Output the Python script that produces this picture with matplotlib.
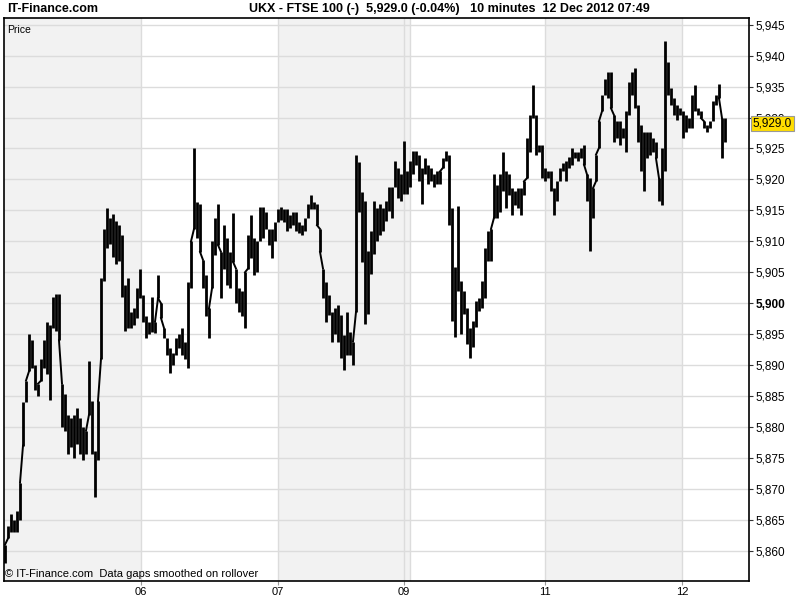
import matplotlib
matplotlib.use('Agg')
import matplotlib.pyplot as plt
from matplotlib.ticker import FixedLocator, FuncFormatter

# 10-minute bars, UKX (FTSE 100), 05-12 Dec 2012 -- high / low per bar group
high = [
    5861.0, 5864.0, 5866.0, 5865.0, 5866.5, 5871.0, 5884.0, 5887.5, 5895.0, 5894.0,
    5890.0, 5887.0, 5891.0, 5894.0, 5897.0, 5896.5, 5901.0, 5901.5, 5901.5, 5887.0,
    5885.3, 5882.0, 5881.5, 5882.0, 5883.0, 5881.5, 5880.0, 5879.4, 5890.7, 5884.2,
    5876.2, 5884.2, 5904.0, 5912.0, 5915.4, 5913.8, 5914.4, 5913.3, 5912.7, 5911.0,
    5903.0,
    5904.0, 5898.6, 5899.2, 5902.4, 5905.6, 5901.3, 5898.0, 5897.0, 5901.0, 5897.0,
    5904.6, 5900.0, 5896.0, 5894.4, 5892.7, 5892.0, 5894.4, 5895.0, 5896.0, 5893.8,
    5903.5, 5910.0, 5925.0, 5916.4, 5916.0, 5907.0, 5904.6, 5899.2, 5910.0, 5913.7,
    5916.0, 5908.3, 5912.6, 5910.5, 5908.3, 5914.5, 5905.6, 5902.4, 5901.9,
    5905.0, 5911.0, 5914.2, 5910.5, 5910.0, 5915.6, 5915.6, 5914.8, 5912.0, 5912.0,
    5913.2, 5915.3, 5915.6, 5915.3, 5915.3, 5914.2, 5914.8, 5914.8, 5913.2, 5912.6,
    5913.7, 5916.0, 5917.5, 5916.4, 5916.0, 5912.0, 5905.6, 5903.5, 5901.3, 5898.6,
    5899.2, 5899.7, 5898.1, 5894.9, 5898.6, 5895.4, 5893.8, 5924.0, 5922.8, 5918.0,
    5916.5, 5908.4, 5911.7, 5916.5, 5915.4, 5916.0, 5915.4, 5916.5, 5918.7, 5918.7,
    5923.0, 5921.9, 5920.8, 5926.2, 5921.3, 5923.0, 5924.6, 5924.6, 5924.0, 5921.9,
    5923.5, 5922.4, 5921.9, 5920.8, 5921.3, 5921.3, 5923.5, 5924.6, 5924.0, 5915.4,
    5905.8, 5915.7, 5903.6, 5902.0, 5899.3, 5896.0, 5897.2, 5900.4, 5900.9, 5903.6,
    5909.0, 5911.7,
    5912.0, 5920.8, 5919.1, 5920.8, 5924.5, 5921.3, 5920.8, 5918.6, 5918.1, 5918.6,
    5918.6, 5919.7, 5926.7, 5930.4, 5935.2, 5930.4, 5925.6, 5925.6, 5921.8, 5921.3,
    5921.3, 5918.6, 5919.7, 5921.8, 5922.6, 5922.9, 5923.7, 5925.1, 5924.5, 5924.5,
    5925.1, 5925.6, 5920.8, 5920.2, 5918.6, 5924.0, 5929.4, 5933.7, 5936.3, 5937.4,
    5937.4, 5930.4, 5929.4, 5929.4, 5928.3, 5931.0, 5935.8, 5937.4, 5938.0, 5932.0,
    5928.8, 5927.7, 5927.7, 5927.7, 5926.7, 5926.1, 5920.2, 5925.0, 5942.3, 5939.0,
    5934.7, 5933.1, 5932.0, 5931.5, 5931.0, 5930.4, 5929.9, 5933.7, 5935.3, 5931.5,
    5931.0, 5929.4, 5928.8, 5929.4, 5932.6, 5933.7, 5935.4, 5929.9, 5929.9,
]
low = [
    5858.0, 5862.0, 5863.0, 5863.0, 5863.0, 5865.0, 5877.0, 5884.0, 5889.0, 5889.5,
    5886.0, 5885.0, 5887.5, 5889.5, 5888.5, 5884.3, 5896.0, 5895.5, 5894.0, 5880.0,
    5879.4, 5875.6, 5876.7, 5875.0, 5877.3, 5875.6, 5874.6, 5875.6, 5882.0, 5875.6,
    5868.7, 5874.6, 5891.0, 5903.6, 5909.0, 5909.5, 5907.4, 5906.3, 5906.8, 5901.0,
    5895.5,
    5896.0, 5896.0, 5896.5, 5897.6, 5900.8, 5897.0, 5894.4, 5895.0, 5895.4, 5895.2,
    5900.8, 5897.6, 5894.4, 5891.7, 5888.7, 5890.0, 5891.7, 5892.7, 5891.7, 5891.0,
    5889.5, 5902.4, 5912.0, 5910.5, 5908.3, 5902.4, 5898.0, 5894.4, 5902.4, 5907.8,
    5909.4, 5900.8, 5905.6, 5903.0, 5902.4, 5906.7, 5900.0, 5898.6, 5898.0,
    5896.0, 5905.6, 5907.3, 5904.6, 5905.1, 5910.0, 5910.5, 5912.0, 5909.4, 5907.3,
    5910.0, 5913.2, 5913.4, 5913.2, 5911.6, 5912.1, 5912.6, 5911.6, 5911.3, 5911.0,
    5911.6, 5913.7, 5915.3, 5915.3, 5912.6, 5908.3, 5900.8, 5897.0, 5898.1, 5893.8,
    5895.0, 5893.8, 5891.1, 5889.2, 5891.7, 5891.7, 5890.0, 5898.6, 5914.8, 5906.7,
    5896.6, 5898.2, 5904.7, 5907.9, 5910.1, 5911.1, 5911.7, 5913.3, 5914.9, 5913.8,
    5918.7, 5917.0, 5916.5, 5917.6, 5917.6, 5918.7, 5920.8, 5922.4, 5919.7, 5916.0,
    5920.8, 5919.2, 5919.7, 5918.7, 5919.2, 5919.2, 5921.9, 5923.0, 5912.7, 5897.2,
    5894.5, 5902.0, 5895.0, 5898.2, 5893.4, 5891.2, 5892.9, 5896.1, 5898.8, 5899.3,
    5900.9, 5906.8,
    5906.8, 5913.8, 5913.8, 5914.8, 5918.1, 5915.4, 5917.5, 5914.3, 5915.9, 5915.4,
    5914.3, 5917.5, 5920.2, 5924.5, 5929.9, 5924.0, 5924.5, 5920.2, 5919.7, 5920.2,
    5918.1, 5914.3, 5916.5, 5919.7, 5921.3, 5919.7, 5921.8, 5922.4, 5923.4, 5922.9,
    5923.4, 5922.4, 5916.5, 5908.4, 5913.8, 5919.7, 5925.1, 5931.0, 5933.7, 5933.1,
    5931.5, 5926.1, 5926.7, 5925.6, 5926.7, 5924.5, 5930.4, 5933.7, 5931.5, 5926.1,
    5921.3, 5918.1, 5923.4, 5924.0, 5924.5, 5923.4, 5916.5, 5915.9, 5921.3, 5933.7,
    5932.0, 5930.4, 5929.6, 5930.4, 5926.7, 5927.7, 5928.3, 5928.3, 5931.0, 5930.4,
    5929.9, 5928.3, 5927.7, 5928.3, 5929.4, 5932.0, 5933.1, 5923.4, 5926.1,
]
last_price = 5929.0

# day boundaries (in bar-group index) and their labels
day_breaks = [45.3, 91, 133, 135, 180, 225.7]
day_labels = ['06', '07', '09', '', '11', '12']
shaded_days = [(-1, 45.3), (91, 135), (180, 225.7)]

y_ticks = list(range(5860, 5950, 5))

plt.rcParams['font.family'] = ['Liberation Sans', 'DejaVu Sans']

fig = plt.figure(figsize=(8, 6), dpi=100)
fig.patch.set_facecolor('white')
ax = fig.add_axes([4 / 800, 19 / 600, 745 / 800, 563 / 600])

xs = list(range(len(high)))
ax.set_xlim(-1 / 3, 248)
ax.set_ylim(5855.13, 5946.08)

for a, b in shaded_days:
    ax.axvspan(a, b, color='#f2f2f2', lw=0, zorder=0)

for v in y_ticks:
    ax.axhline(v, color='#dcdcdc', lw=1, zorder=1)
for d in day_breaks:
    ax.axvline(d, color='#dcdcdc', lw=1, zorder=1)

# high-low bars, plus a joining stroke wherever two neighbours do not overlap
ax.vlines(xs, low, high, color='black', lw=2.0, zorder=3)
for i in xs[:-1]:
    if low[i + 1] > high[i]:
        ax.plot([i, i + 1], [high[i], low[i + 1]], color='black', lw=1.4, zorder=3)
    elif high[i + 1] < low[i]:
        ax.plot([i, i + 1], [low[i], high[i + 1]], color='black', lw=1.4, zorder=3)

ax.yaxis.tick_right()
ax.yaxis.set_major_locator(FixedLocator(y_ticks))
ax.yaxis.set_major_formatter(FuncFormatter(lambda v, p: f'{v:,.0f}'))
ax.tick_params(axis='y', direction='out', length=3, width=0.8, colors='#333333',
               labelsize=8.5, labelcolor='black', pad=2)
for lab in ax.get_yticklabels():
    if lab.get_text() == '5,900':
        lab.set_fontweight('bold')

ax.xaxis.set_major_locator(FixedLocator([day_breaks[i] for i in range(len(day_breaks)) if day_labels[i]]))
ax.set_xticklabels([l for l in day_labels if l])
ax.tick_params(axis='x', direction='out', length=3, width=0.8, colors='#999999',
               labelsize=8, labelcolor='black', pad=1)

for spine in ax.spines.values():
    spine.set_color('black')
    spine.set_linewidth(1.2)

ax.text(1.005, last_price, f'{last_price:,.1f}', transform=ax.get_yaxis_transform(),
        ha='left', va='center', fontsize=8.5, color='black', zorder=10,
        bbox=dict(boxstyle='square,pad=0.15', facecolor='#ffdd00', edgecolor='#999999', lw=0.8))

ax.text(0.004, 0.988, 'Price', transform=ax.transAxes, ha='left', va='top', fontsize=7.5)
ax.text(0.002, 0.004, '\u00a9 IT-Finance.com  Data gaps smoothed on rollover',
        transform=ax.transAxes, ha='left', va='bottom', fontsize=8)

hdr = ['DejaVu Sans Condensed', 'Liberation Sans', 'DejaVu Sans']
fig.text(7 / 800, 1 - 9 / 600, 'IT-Finance.com', ha='left', va='center',
         fontsize=9, fontweight='bold', family=hdr)
fig.text(249 / 800, 1 - 9 / 600,
         'UKX - FTSE 100 (-)  5,929.0 (-0.04%)   10 minutes  12 Dec 2012 07:49',
         ha='left', va='center', fontsize=9, fontweight='bold', family=hdr)

fig.savefig('out.png', dpi=100)
